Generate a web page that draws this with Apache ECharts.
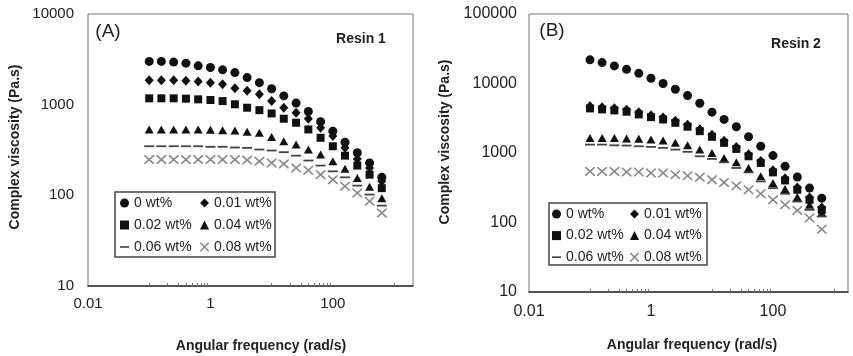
<!DOCTYPE html>
<html><head><meta charset="utf-8">
<script src="https://cdn.jsdelivr.net/npm/echarts@6/dist/echarts.min.js"></script>
<style>html,body{margin:0;padding:0;background:#fff}#c{width:853px;height:356px}</style>
</head><body><div id="c"></div>
<script>
// Angular frequency (rad/s)
const freq = [0.1, 0.158, 0.251, 0.398, 0.631, 1, 1.58, 2.51, 3.98, 6.31, 10, 15.8, 25.1, 39.8, 63.1, 100, 158, 251, 398, 631];
const seriesNames = ['0 wt%', '0.01 wt%', '0.02 wt%', '0.04 wt%', '0.06 wt%', '0.08 wt%'];

// Resin 1 complex viscosity (Pa.s)
const r1_w000 = [3000, 3000, 2950, 2870, 2680, 2570, 2420, 2260, 1990, 1750, 1500, 1250, 1040, 840, 650, 510, 385, 295, 228, 158];
const r1_w001 = [1860, 1860, 1860, 1830, 1800, 1750, 1680, 1520, 1420, 1300, 1100, 925, 815, 700, 556, 450, 335, 252, 200, 143];
const r1_w002 = [1175, 1175, 1175, 1165, 1145, 1125, 1095, 1010, 925, 870, 800, 700, 632, 533, 431, 348, 274, 213, 169, 120];
const r1_w004 = [533, 533, 533, 533, 533, 528, 523, 519, 502, 490, 440, 395, 363, 320, 282, 237, 196, 155, 124, 93];
const r1_w006 = [348, 348, 348, 348, 348, 343, 343, 337, 334, 320, 312, 299, 274, 242, 213, 184, 158, 128, 102, 77];
const r1_w008 = [248, 248, 248, 248, 248, 248, 248, 248, 245, 237, 228, 222, 200, 189, 169, 149, 126, 106, 86, 64];

// Resin 2 complex viscosity (Pa.s)
const r2_w000 = [21900, 20000, 17900, 16000, 14000, 11900, 10000, 8250, 6700, 5200, 3870, 3040, 2390, 1710, 1250, 917, 643, 452, 313, 224];
const r2_w001 = [4700, 4550, 4400, 4200, 3850, 3500, 3250, 2900, 2550, 2200, 1830, 1500, 1220, 960, 770, 565, 432, 318, 228, 165];
const r2_w002 = [4380, 4240, 4100, 3930, 3590, 3280, 3040, 2720, 2390, 2060, 1710, 1400, 1145, 897, 720, 526, 403, 296, 212, 152];
const r2_w004 = [1650, 1650, 1650, 1615, 1600, 1560, 1510, 1400, 1290, 1120, 1000, 850, 734, 609, 461, 370, 303, 232, 180, 138];
const r2_w006 = [1320, 1320, 1290, 1280, 1250, 1225, 1185, 1120, 1040, 897, 822, 734, 609, 526, 390, 313, 259, 200, 152, 122];
const r2_w008 = [544, 544, 544, 533, 533, 516, 516, 487, 471, 446, 413, 377, 338, 296, 259, 212, 180, 149, 116, 80];

// Axis tick labels and tick positions
const xLabelValues = [0.01, 1, 100];
const xTickValues = [0.1, 0.2, 0.3, 0.4, 0.5, 0.6, 0.7, 0.8, 0.9, 10, 20, 30, 40, 50, 60, 70, 80, 90, 1000];

const FONT = '"Liberation Sans", Arial, Helvetica, sans-serif';
const styles = [
  {symbol: 'circle', size: 9, color: '#111'},
  {symbol: 'diamond', size: [9, 10], color: '#111'},
  {symbol: 'rect', size: 8, color: '#111'},
  {symbol: 'triangle', size: [9, 8], color: '#111'},
  {symbol: 'path://M0,0L0,0M10,10L10,10M0,4.1H10V5.9H0Z', size: [10, 10], color: '#444'},
  {symbol: 'path://M0,0L1.2,0L5,3.8L8.8,0L10,0L10,1.2L6.2,5L10,8.8L10,10L8.8,10L5,6.2L1.2,10L0,10L0,8.8L3.8,5L0,1.2Z', size: [10, 9], color: '#888'}
];

function mk(idx, values, panel) {
  const s = styles[idx];
  return {
    type: 'scatter', name: seriesNames[idx], xAxisIndex: panel, yAxisIndex: panel,
    data: freq.map((f, i) => [f, values[i]]),
    symbol: s.symbol, symbolSize: s.size,
    itemStyle: {color: s.color, opacity: 1},
    emphasis: {disabled: true}, animation: false
  };
}

const fmtX = v => String(Number(v.toPrecision(6)));
function xAxis(grid, max, fs, margin) {
  return {
    type: 'log', logBase: 10, gridIndex: grid, min: 0.01, max: max,
    axisLine: {show: true, lineStyle: {color: '#333', width: 1.5}},
    axisTick: {show: true, inside: true, length: 3, customValues: xTickValues, lineStyle: {color: '#777', width: 1}},
    axisLabel: {customValues: xLabelValues, formatter: fmtX, margin: margin, fontSize: fs, color: '#222', fontFamily: FONT},
    splitLine: {show: false}, minorTick: {show: false}
  };
}
function yAxis(grid, max, fs, margin) {
  return {
    type: 'log', logBase: 10, gridIndex: grid, min: 10, max: max,
    axisLine: {show: false}, axisTick: {show: false}, splitLine: {show: false},
    axisLabel: {formatter: v => String(Math.round(v)), margin: margin, fontSize: fs, color: '#222', fontFamily: FONT}
  };
}
function legend(names, left, top, gap) {
  return {
    data: names, orient: 'vertical', left: left, top: top, padding: 0,
    itemWidth: 9, itemHeight: 9, itemGap: gap, selectedMode: false,
    textStyle: {fontSize: 14, color: '#222', fontFamily: FONT, lineHeight: 14},
    inactiveColor: '#111'
  };
}
function txt(text, x, y, size, weight, rot) {
  return {
    type: 'text', x: x, y: y, rotation: rot || 0, silent: true,
    style: {text: text, fontSize: size, fontWeight: weight, fontFamily: FONT, fill: '#222', align: 'center', verticalAlign: 'middle'}
  };
}

const option = {
  backgroundColor: '#fff',
  animation: false,
  grid: [
    {left: 88, top: 14, width: 325, height: 272, show: true, borderColor: '#777', borderWidth: 1, outerBoundsMode: 'none', containLabel: false},
    {left: 529, top: 14, width: 319, height: 278, show: true, borderColor: '#777', borderWidth: 1, outerBoundsMode: 'none', containLabel: false}
  ],
  xAxis: [xAxis(0, 2040, 15, 10), xAxis(1, 1700, 16, 12)],
  yAxis: [yAxis(0, 10000, 15, 14), yAxis(1, 100000, 16, 12)],
  legend: [
    legend([seriesNames[0], seriesNames[2], seriesNames[4]], 120, 196, 8),
    legend([seriesNames[1], seriesNames[3], seriesNames[5]], 200, 196, 8),
    legend([seriesNames[0], seriesNames[2], seriesNames[4]], 552, 207, 7.6),
    legend([seriesNames[1], seriesNames[3], seriesNames[5]], 630, 207, 7.6)
  ],
  graphic: [
    {type: 'rect', silent: true, shape: {x: 115, y: 192, width: 160, height: 65}, style: {fill: 'none', stroke: '#444', lineWidth: 1.5}, z: 10},
    {type: 'rect', silent: true, shape: {x: 549, y: 203, width: 158, height: 62}, style: {fill: 'none', stroke: '#444', lineWidth: 1.5}, z: 10},
    txt('(A)', 108, 32, 19, 'normal'),
    txt('Resin 1', 361, 39.5, 14, 'bold'),
    txt('(B)', 552, 31, 19, 'normal'),
    txt('Resin 2', 796, 44, 14, 'bold'),
    txt('Complex viscosity (Pa.s)', 15, 147, 14, 'bold', Math.PI / 2),
    txt('Complex viscosity (Pa.s)', 445, 142, 14, 'bold', Math.PI / 2),
    txt('Angular frequency (rad/s)', 261, 346, 14, 'bold'),
    txt('Angular frequency (rad/s)', 692, 345, 14, 'bold')
  ],
  series: [
    mk(0, r1_w000, 0), mk(1, r1_w001, 0), mk(2, r1_w002, 0), mk(3, r1_w004, 0), mk(4, r1_w006, 0), mk(5, r1_w008, 0),
    mk(0, r2_w000, 1), mk(1, r2_w001, 1), mk(2, r2_w002, 1), mk(3, r2_w004, 1), mk(4, r2_w006, 1), mk(5, r2_w008, 1)
  ]
};
const chart = echarts.init(document.getElementById('c'));
chart.setOption(option);
</script>
</body></html>
